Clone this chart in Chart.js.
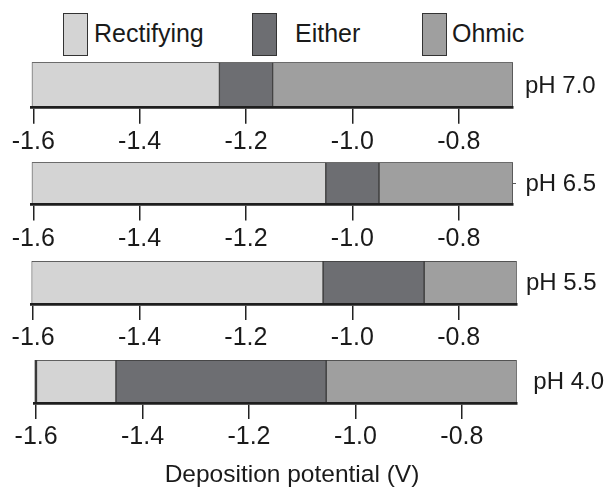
<!DOCTYPE html>
<html>
<head>
<meta charset="utf-8">
<script src="https://cdn.jsdelivr.net/npm/chart.js@4.4.1/dist/chart.umd.min.js"></script>
<style>
  html, body { margin: 0; padding: 0; background: #fff; }
  #page { position: relative; width: 608px; height: 488px; overflow: hidden;
          font-family: 'Liberation Sans', Arial, sans-serif; color: #1a1a1a; }
  .panel { position: absolute; left: 0; width: 608px; }
  .key-box { position: absolute; top: 13px; width: 25px; height: 43px; box-sizing: border-box; border: 1px solid #333; }
  .key-text { position: absolute; top: 18px; font-size: 25px; line-height: 30px; white-space: nowrap; }
  #xtitle { position: absolute; left: 0; width: 584px; top: 459px; text-align: center; font-size: 24.5px; line-height: 30px; }
</style>
</head>
<body>
<div id="page"></div>
<script>
// Deposition potential windows (V) for each pH
const seriesNames = ['Rectifying', 'Either', 'Ohmic'];
const phLabels = ['pH 7.0', 'pH 6.5', 'pH 5.5', 'pH 4.0'];
const rectifyingEnd = [-1.25, -1.05, -1.055, -1.45];
const eitherEnd = [-1.15, -0.95, -0.865, -1.055];
const axisMin = [-1.603, -1.603, -1.603, -1.603];
const axisMax = [-0.698, -0.698, -0.691, -0.697];
const tickValues = [-1.6, -1.4, -1.2, -1.0, -0.8];
const xTitle = 'Deposition potential (V)';

const fillColors = ['#d4d4d4', '#6d6e72', '#9f9f9f'];

// where each little chart sits on the page
const panels = [
    { barTop: 62.3, axisY: 107.7, left: 31.7, right: 513, labelGap: 12, sideTick: 0 },
    { barTop: 162.3, axisY: 204.5, left: 31.7, right: 513, labelGap: 12.5, sideTick: 3 },
    { barTop: 261, axisY: 304, left: 31.5, right: 516.7, labelGap: 9.3, sideTick: 0 },
    { barTop: 360, axisY: 403, left: 34.5, right: 516.7, labelGap: 16.6, sideTick: 0 }
];
const legendBoxX = [63, 252, 422];
const legendTextX = [94, 295, 452];

Chart.defaults.font.family = "'Liberation Sans', Arial, sans-serif";
Chart.defaults.color = '#1a1a1a';

const page = document.getElementById('page');

seriesNames.forEach((name, i) => {
    const box = document.createElement('div');
    box.className = 'key-box';
    box.style.left = legendBoxX[i] + 'px';
    box.style.background = fillColors[i];
    page.appendChild(box);
    const txt = document.createElement('div');
    txt.className = 'key-text';
    txt.style.left = legendTextX[i] + 'px';
    txt.textContent = name;
    page.appendChild(txt);
});

function makePanel(i) {
    const p = panels[i];
    const canvasTop = Math.floor(p.barTop) - 20;
    const padTop = p.barTop - canvasTop;
    const barH = p.axisY - p.barTop;
    const h = Math.ceil(padTop + barH + 52);

    const wrap = document.createElement('div');
    wrap.className = 'panel';
    wrap.style.top = canvasTop + 'px';
    wrap.style.height = h + 'px';
    const canvas = document.createElement('canvas');
    wrap.appendChild(canvas);
    page.appendChild(wrap);

    const ranges = [
        [axisMin[i], rectifyingEnd[i]],
        [rectifyingEnd[i], eitherEnd[i]],
        [eitherEnd[i], axisMax[i]]
    ];

    return new Chart(canvas, {
        type: 'bar',
        data: {
            labels: [phLabels[i]],
            datasets: seriesNames.map((name, k) => ({
                label: name,
                data: [ranges[k]],
                backgroundColor: fillColors[k],
                borderColor: '#3a3a3a',
                borderWidth: (k === 0 && i === 3) ? { left: 3, top: 1, right: 1, bottom: 1 } : 1,
                borderSkipped: false,
                categoryPercentage: 1,
                barPercentage: 1,
                grouped: false
            }))
        },
        options: {
            indexAxis: 'y',
            responsive: true,
            maintainAspectRatio: false,
            animation: false,
            layout: {
                padding: { top: padTop, left: p.left, right: 0, bottom: h - padTop - barH - 50 }
            },
            plugins: {
                legend: { display: false },
                tooltip: { enabled: false }
            },
            scales: {
                x: {
                    type: 'linear',
                    position: 'bottom',
                    min: axisMin[i],
                    max: axisMax[i],
                    afterBuildTicks: (scale) => {
                        scale.ticks = tickValues.map(v => ({ value: v }));
                    },
                    afterFit: (scale) => {
                        scale.height = 50;
                        scale.paddingLeft = 0;
                        scale.paddingRight = 0;
                    },
                    grid: {
                        drawOnChartArea: false,
                        drawTicks: true,
                        tickLength: 16,
                        color: '#222',
                        lineWidth: 1.5
                    },
                    border: { display: true, color: '#1e1e1e', width: 2.7, z: 1 },
                    ticks: {
                        padding: 3.5,
                        maxRotation: 0,
                        font: { size: 25 },
                        callback: (v) => Number(v).toFixed(1)
                    }
                },
                y: {
                    type: 'category',
                    position: 'right',
                    afterFit: (scale) => {
                        scale.width = 608 - p.right;
                        scale.paddingTop = 0;
                        scale.paddingBottom = 0;
                    },
                    grid: p.sideTick
                        ? { display: true, drawOnChartArea: false, drawTicks: true, offset: false, tickLength: p.sideTick, color: '#555', lineWidth: 1 }
                        : { display: false, drawTicks: false },
                    border: { display: false },
                    ticks: {
                        padding: p.labelGap - p.sideTick,
                        labelOffset: 1,
                        font: { size: 24 }
                    }
                }
            }
        }
    });
}

phLabels.forEach((_, i) => makePanel(i));

const title = document.createElement('div');
title.id = 'xtitle';
title.textContent = xTitle;
page.appendChild(title);
</script>
</body>
</html>
